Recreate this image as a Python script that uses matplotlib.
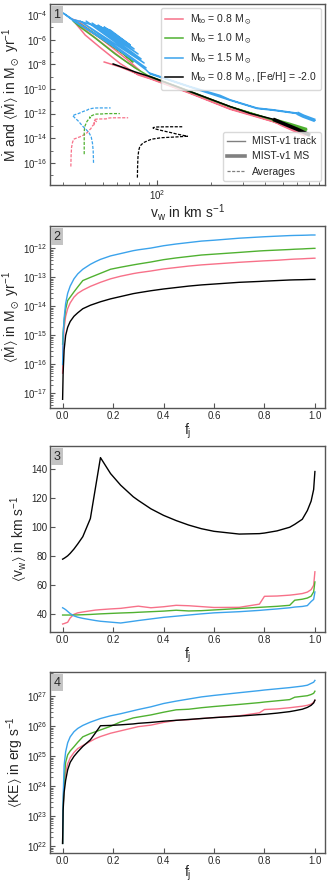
import numpy as np
import matplotlib.pyplot as plt
from matplotlib.lines import Line2D
from matplotlib.ticker import NullFormatter

plt.rcParams.update({
    'font.family': ['Liberation Sans', 'DejaVu Sans'],
    'mathtext.fontset': 'custom',
    'mathtext.rm': 'Liberation Sans',
    'mathtext.it': 'Liberation Sans:italic',
    'mathtext.fallback': 'stixsans',
    'axes.edgecolor': '#555555',
    'axes.linewidth': 1.0,
    'text.color': '#262626',
    'axes.labelcolor': '#262626',
    'xtick.color': '#555555',
    'ytick.color': '#555555',
    'xtick.labelcolor': '#262626',
    'ytick.labelcolor': '#262626',
    'xtick.direction': 'in',
    'ytick.direction': 'in',
    'xtick.major.pad': 2.0,
    'ytick.major.pad': 2.0,
    'xtick.labelsize': 7,
    'ytick.labelsize': 7,
    'axes.labelsize': 10,
    'axes.labelpad': 0.5,
})

# colours / labels of the four models
labels = [r'M$_{\rm to}$ = 0.8 M$_\odot$',
          r'M$_{\rm to}$ = 1.0 M$_\odot$',
          r'M$_{\rm to}$ = 1.5 M$_\odot$',
          r'M$_{\rm to}$ = 0.8 M$_\odot$, [Fe/H] = -2.0']
colors = ['#f77189', '#50b131', '#3ba3ec', 'black']

# jet fraction grid (panels 2-4)
fj = [0, 0.002, 0.006, 0.012, 0.02, 0.03, 0.045, 0.06, 0.08, 0.11, 0.13, 0.15,
      0.19, 0.23, 0.28, 0.3, 0.35, 0.4, 0.45, 0.5, 0.55, 0.6, 0.7, 0.78, 0.8,
      0.85, 0.9, 0.92, 0.95, 0.97, 0.985, 0.995, 1.0]

# log10 <Mdot> [Msun/yr]
mdot_pink = [-16.3, -15.4, -14.75, -14.35, -14.08, -13.88, -13.68, -13.55, -13.44, -13.31, -13.24,
             -13.17, -13.05, -12.96, -12.87, -12.84, -12.78, -12.71, -12.66, -12.61, -12.57, -12.54,
             -12.48, -12.44, -12.43, -12.41, -12.38, -12.37, -12.36, -12.35, -12.345, -12.34, -12.34]
mdot_green = [-15.3, -14.9, -14.5, -14.1, -13.8, -13.68, -13.5, -13.33, -13.11, -13.0, -12.93,
              -12.86, -12.72, -12.65, -12.57, -12.54, -12.47, -12.39, -12.33, -12.28, -12.23, -12.2,
              -12.14, -12.09, -12.08, -12.06, -12.04, -12.03, -12.02, -12.01, -12.005, -12.0, -12.0]
mdot_blue = [-16.0, -15.0, -14.4, -13.9, -13.55, -13.3, -13.05, -12.88, -12.72, -12.55, -12.46,
             -12.38, -12.26, -12.18, -12.08, -12.05, -11.99, -11.91, -11.85, -11.8, -11.75, -11.72,
             -11.65, -11.61, -11.6, -11.58, -11.56, -11.555, -11.55, -11.545, -11.54, -11.54, -11.54]
mdot_black = [-17.2, -16.3, -15.5, -15.0, -14.72, -14.52, -14.34, -14.22, -14.08, -13.96, -13.9,
              -13.84, -13.74, -13.66, -13.56, -13.53, -13.46, -13.4, -13.35, -13.3, -13.26, -13.23,
              -13.17, -13.14, -13.13, -13.11, -13.09, -13.085, -13.08, -13.075, -13.07, -13.07, -13.07]

# <v_w> [km/s]
vw_pink = [33.3, 33.4, 33.6, 34, 34.5, 37.5, 40, 41, 41.6, 42.4, 42.9, 43.2, 43.7, 44.1, 45.2,
           45.6, 44.5, 45.2, 46.2, 45.9, 45.3, 44.7, 44.8, 47, 52.4, 52.6, 53.2, 53.6, 54.3,
           55.3, 57, 60, 69.3]
vw_green = [39.5, 39.5, 39.5, 39.5, 39.5, 39.5, 39.5, 39.6, 39.7, 39.9, 40.1, 40.3, 40.6, 40.9,
            41.2, 41.4, 41.8, 42.2, 42.8, 42.3, 42.5, 43, 44, 44.8, 45, 45.5, 46.2, 49.7, 50.4,
            51.2, 52.5, 55.5, 62.3]
vw_blue = [44.5, 44.3, 43.9, 43.2, 42, 40.5, 38.9, 38, 37.2, 36.3, 35.7, 35.2, 34.6, 34.0, 35.2,
           35.7, 36.8, 37.9, 38.7, 39.5, 40.3, 41, 41.8, 42.7, 43, 43.7, 44.5, 45, 45.4, 46,
           48.8, 50.3, 55.4]
vw_black = [78, 78.2, 78.6, 79.3, 80.3, 82, 85, 88.5, 93.5, 106, 127, 148, 137, 129, 121, 118.5,
            112.7, 108.2, 104.6, 101.5, 99, 97.2, 95.3, 95.6, 96, 97.5, 100, 102, 105.5, 111.5,
            118, 126, 138.4]

# log10 <KE> [erg/s]
ke_pink = [22.1, 23.3, 24.1, 24.45, 24.75, 24.95, 25.13, 25.26, 25.36, 25.5, 25.59, 25.66, 25.77,
           25.85, 25.95, 25.99, 26.04, 26.13, 26.2, 26.22, 26.26, 26.29, 26.35, 26.45, 26.56,
           26.58, 26.62, 26.64, 26.67, 26.7, 26.74, 26.8, 26.87]
ke_green = [22.1, 23.3, 24.2, 24.8, 25.05, 25.18, 25.32, 25.47, 25.65, 25.76, 25.82, 25.88, 26.0,
            26.15, 26.28, 26.31, 26.38, 26.47, 26.55, 26.57, 26.62, 26.66, 26.73, 26.79, 26.81,
            26.85, 26.89, 26.97, 27.0, 27.02, 27.06, 27.1, 27.17]
ke_blue = [22.1, 23.6, 24.7, 25.15, 25.45, 25.65, 25.82, 25.93, 26.03, 26.14, 26.2, 26.26, 26.35,
           26.42, 26.52, 26.56, 26.65, 26.76, 26.84, 26.91, 26.98, 27.03, 27.12, 27.19, 27.21,
           27.25, 27.29, 27.31, 27.34, 27.37, 27.43, 27.47, 27.53]
ke_black = [22.1, 23.2, 23.8, 24.2, 24.55, 24.8, 25.0, 25.15, 25.33, 25.55, 25.78, 26.02, 26.03,
            26.05, 26.08, 26.1, 26.13, 26.17, 26.2, 26.23, 26.26, 26.29, 26.34, 26.39, 26.4,
            26.44, 26.49, 26.52, 26.57, 26.63, 26.7, 26.78, 26.87]

# MIST-v1 tracks: v_w [km/s], log10 Mdot [Msun/yr]
trk_pink_v = [51.0, 62.5, 75.8, 91.8, 153.1, 255.5, 330, 442.8, 550.4, 675, 442.8, 255.5, 153.1,
              91.8, 78.7, 62.5, 48.4, 40.0, 33.8, 36.5, 45.4, 58.7, 71.1, 80.8, 66.7, 51.6, 41.5, 34.3]
trk_pink_m = [-7.81, -8.21, -8.70, -9.13, -10.32, -11.61, -12.06, -12.64, -13.15, -13.76, -12.66,
              -11.65, -10.36, -9.17, -8.86, -7.93, -6.63, -5.62, -4.32, -4.49, -5.54, -6.83, -7.81,
              -8.53, -7.72, -6.47, -5.38, -4.40]
trk_green_v = [91.8, 153.1, 255.5, 442.8, 550.4, 681.3, 442.8, 255.5, 153.1, 91.8, 75.8, 58.7,
               45.4, 37.5, 34.3, 37.5, 48.4, 62.5, 73.8, 64.1, 48.4, 38.5, 34.7]
trk_green_m = [-8.98, -10.19, -11.43, -12.50, -12.89, -13.31, -12.53, -11.45, -10.23, -9.02, -8.29,
               -7.16, -5.86, -4.97, -4.49, -4.73, -5.78, -6.91, -7.81, -7.08, -5.86, -4.89, -4.49]
trk_blue_v = [91.8, 153.1, 224.7, 255.5, 360.7, 442.8, 601.8, 757.5, 601.8, 442.8, 360.7, 255.5,
              153.1, 91.8, 87.2, 71.1, 55.0, 42.6, 35.2, 30.2,
              87.2, 37.5, 85.0, 40.5, 81.8, 43.7, 78.7, 47.2, 74.8, 51.0, 71.1, 55.0, 35.2]
trk_blue_m = [-8.72, -9.81, -10.52, -10.88, -11.55, -11.69, -11.96, -12.56, -12.0, -11.73, -11.59,
              -10.92, -9.85, -8.78, -8.45, -7.48, -6.35, -5.30, -4.57, -3.84,
              -8.29, -4.49, -7.89, -4.49, -7.56, -4.65, -7.16, -4.81, -6.75, -4.97, -6.43, -5.21, -4.40]
trk_black_v = [57.2, 62.5, 75.8, 91.8, 153.1, 255.5, 330, 442.8]
trk_black_m = [-7.97, -8.17, -8.62, -9.00, -10.21, -11.43, -11.98, -12.46]

# MIST-v1 main sequence segments
ms_pink_v = [484.2, 571.6, 675]
ms_pink_m = [-12.83, -13.30, -13.76]
ms_green_v = [442.8, 550.4, 681.3]
ms_green_m = [-12.50, -12.89, -13.31]
ms_blue_v = [601.8, 650, 757.5]
ms_blue_m = [-11.96, -12.2, -12.56]
ms_black_v = [442.8, 516.3, 601.8, 710.6]
ms_black_m = [-12.46, -12.87, -13.27, -13.76]

mdot_all = [mdot_pink, mdot_green, mdot_blue, mdot_black]
vw_all = [vw_pink, vw_green, vw_blue, vw_black]
ke_all = [ke_pink, ke_green, ke_blue, ke_black]
trk_all = [(trk_pink_v, trk_pink_m), (trk_green_v, trk_green_m),
           (trk_blue_v, trk_blue_m), (trk_black_v, trk_black_m)]
ms_all = [(ms_pink_v, ms_pink_m), (ms_green_v, ms_green_m),
          (ms_blue_v, ms_blue_m), (ms_black_v, ms_black_m)]

fig = plt.figure(figsize=(3.32, 8.86), dpi=100)
W, H = 332.0, 886.0
boxes = [(4, 185), (226, 408), (446, 632), (672, 853)]
axes = [fig.add_axes([50 / W, 1 - b / H, 275 / W, (b - t) / H]) for t, b in boxes]


def panel_tag(ax, s):
    ax.text(0.012, 0.975, s, transform=ax.transAxes, ha='left', va='top', fontsize=9,
            color='#262626', bbox=dict(boxstyle='square,pad=0.22', fc='#c4c4c4', ec='none'))


# ---- panel 1
ax = axes[0]
for i in range(4):
    tv, tm = trk_all[i]
    ax.plot(tv, 10 ** np.array(tm), color=colors[i], lw=1.1, label=labels[i])
    mv, mm = ms_all[i]
    ax.plot(mv, 10 ** np.array(mm), color=colors[i], lw=2.6, solid_capstyle='butt')
    ax.plot(vw_all[i], 10 ** np.array(mdot_all[i]), color=colors[i], lw=0.9,
            ls=(0, (2.5, 1.2)))
ax.set_xscale('log')
ax.set_yscale('log')
ax.set_xlim(25.5, 860)
ax.set_ylim(10 ** -17.8, 10 ** -3.1)
ax.set_yticks([10.0 ** e for e in range(-16, -3, 2)])
ax.set_yticks([10.0 ** e for e in range(-17, -3, 2)], minor=True)
ax.yaxis.set_minor_formatter(NullFormatter())
ax.xaxis.set_minor_formatter(NullFormatter())
ax.set_xlabel(r'v$_{\rm w}$ in km s$^{-1}$')
ax.set_ylabel(r'$\dot{\rm M}$ and $\langle\dot{\rm M}\rangle$ in M$_\odot$ yr$^{-1}$')
leg1 = ax.legend(loc='upper right', fontsize=7.5, handlelength=1.7, handletextpad=0.7,
                 edgecolor='#d0d0d0', borderaxespad=0.4)
ax.add_artist(leg1)
style_handles = [Line2D([], [], color='gray', lw=1.0),
                 Line2D([], [], color='gray', lw=2.6),
                 Line2D([], [], color='gray', lw=0.9, ls=(0, (2.5, 1.2)))]
ax.legend(style_handles, ['MIST-v1 track', 'MIST-v1 MS', 'Averages'], loc='lower right',
          fontsize=7.5, handlelength=1.7, handletextpad=0.7, edgecolor='#d0d0d0',
          borderaxespad=0.4)
panel_tag(ax, '1')

# ---- panel 2
ax = axes[1]
for i in range(4):
    ax.plot(fj, 10 ** np.array(mdot_all[i]), color=colors[i], lw=1.0)
ax.set_yscale('log')
ax.set_xlim(-0.05, 1.04)
ax.set_ylim(10 ** -17.5, 10 ** -11.23)
ax.set_yticks([10.0 ** e for e in range(-17, -11)])
ax.set_xlabel(r'f$_{\rm j}$')
ax.set_ylabel(r'$\langle\dot{\rm M}\rangle$ in M$_\odot$ yr$^{-1}$')
panel_tag(ax, '2')

# ---- panel 3
ax = axes[2]
for i in range(4):
    ax.plot(fj, vw_all[i], color=colors[i], lw=1.0)
ax.set_xlim(-0.05, 1.04)
ax.set_ylim(27.8, 156)
ax.set_yticks([40, 60, 80, 100, 120, 140])
ax.set_xlabel(r'f$_{\rm j}$')
ax.set_ylabel(r'$\langle$v$_{\rm w}\rangle$ in km s$^{-1}$')
panel_tag(ax, '3')

# ---- panel 4
ax = axes[3]
for i in range(4):
    ax.plot(fj, 10 ** np.array(ke_all[i]), color=colors[i], lw=1.0)
ax.set_yscale('log')
ax.set_xlim(-0.05, 1.04)
ax.set_ylim(10 ** 21.78, 10 ** 27.81)
ax.set_yticks([10.0 ** e for e in range(22, 28)])
ax.set_xlabel(r'f$_{\rm j}$', labelpad=-1.5)
ax.set_ylabel(r'$\langle$KE$\rangle$ in erg s$^{-1}$')
panel_tag(ax, '4')

fig.savefig('out.png', dpi=100)
